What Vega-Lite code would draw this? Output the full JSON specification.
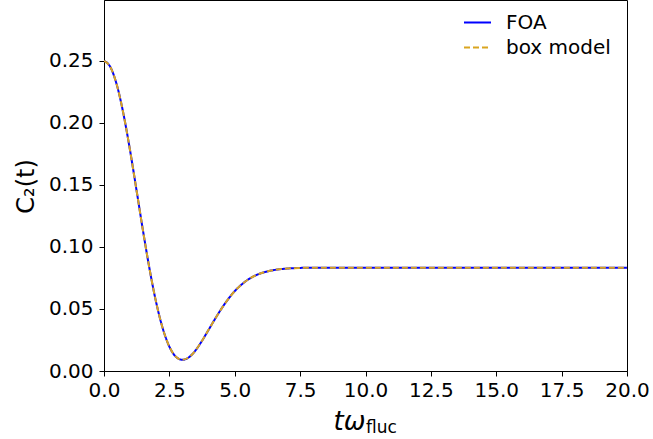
{
  "$schema": "https://vega.github.io/schema/vega-lite/v6.json",
  "width": 523,
  "height": 371,
  "autosize": {"type": "none"},
  "padding": {"left": 104, "top": 0, "right": 26, "bottom": 68},
  "background": "white",
  "title": {
    "text": "fluc",
    "orient": "bottom",
    "anchor": "start",
    "frame": "group",
    "font": "DejaVu Sans",
    "fontSize": 17,
    "fontWeight": "normal",
    "color": "black",
    "offset": 0,
    "dx": 262,
    "dy": -14
  },
  "data": {
    "values": [
      {"t": 0.0, "FOA": 0.25, "box": 0.25},
      {"t": 0.25, "FOA": 0.2448, "box": 0.2448},
      {"t": 0.5, "FOA": 0.2299, "box": 0.2299},
      {"t": 0.75, "FOA": 0.2066, "box": 0.2066},
      {"t": 1.0, "FOA": 0.1774, "box": 0.1774},
      {"t": 1.25, "FOA": 0.1449, "box": 0.1449},
      {"t": 1.5, "FOA": 0.112, "box": 0.112},
      {"t": 1.75, "FOA": 0.0813, "box": 0.0813},
      {"t": 2.0, "FOA": 0.0548, "box": 0.0548},
      {"t": 2.25, "FOA": 0.0341, "box": 0.0341},
      {"t": 2.5, "FOA": 0.0196, "box": 0.0196},
      {"t": 2.75, "FOA": 0.0115, "box": 0.0115},
      {"t": 3.0, "FOA": 0.009, "box": 0.009},
      {"t": 3.25, "FOA": 0.0111, "box": 0.0111},
      {"t": 3.5, "FOA": 0.0166, "box": 0.0166},
      {"t": 3.75, "FOA": 0.0244, "box": 0.0244},
      {"t": 4.0, "FOA": 0.0332, "box": 0.0332},
      {"t": 4.25, "FOA": 0.0421, "box": 0.0421},
      {"t": 4.5, "FOA": 0.0505, "box": 0.0505},
      {"t": 4.75, "FOA": 0.058, "box": 0.058},
      {"t": 5.0, "FOA": 0.0644, "box": 0.0644},
      {"t": 5.25, "FOA": 0.0695, "box": 0.0695},
      {"t": 5.5, "FOA": 0.0736, "box": 0.0736},
      {"t": 5.75, "FOA": 0.0766, "box": 0.0766},
      {"t": 6.0, "FOA": 0.0788, "box": 0.0788},
      {"t": 6.5, "FOA": 0.0814, "box": 0.0814},
      {"t": 7.0, "FOA": 0.0826, "box": 0.0826},
      {"t": 7.5, "FOA": 0.0831, "box": 0.0831},
      {"t": 8.0, "FOA": 0.0833, "box": 0.0833},
      {"t": 9.0, "FOA": 0.0833, "box": 0.0833},
      {"t": 10.0, "FOA": 0.0833, "box": 0.0833},
      {"t": 12.0, "FOA": 0.0833, "box": 0.0833},
      {"t": 14.0, "FOA": 0.0833, "box": 0.0833},
      {"t": 16.0, "FOA": 0.0833, "box": 0.0833},
      {"t": 18.0, "FOA": 0.0833, "box": 0.0833},
      {"t": 20.0, "FOA": 0.0833, "box": 0.0833}
    ]
  },
  "encoding": {
    "x": {
      "field": "t",
      "type": "quantitative",
      "scale": {"domain": [0, 20], "nice": false, "zero": false},
      "axis": {
        "values": [0, 2.5, 5, 7.5, 10, 12.5, 15, 17.5, 20],
        "format": ".1f",
        "title": "tω",
        "titleFontStyle": "italic",
        "titleFontWeight": "normal",
        "titleFontSize": 26,
        "titleX": 245,
        "titleY": 58,
        "titleBaseline": "alphabetic",
        "titleAlign": "center",
        "labelPadding": 4
      }
    }
  },
  "layer": [
    {
      "mark": {"type": "line", "strokeWidth": 2, "interpolate": "monotone", "clip": true},
      "encoding": {
        "y": {
          "field": "FOA",
          "type": "quantitative",
          "scale": {"domain": [0, 0.2991], "nice": false},
          "axis": {
            "values": [0, 0.05, 0.1, 0.15, 0.2, 0.25],
            "format": ".2f",
            "title": "C₂(t)",
            "titleFontWeight": "normal",
            "titleFontSize": 24,
            "titleAngle": 270,
            "titleX": -78,
            "titleY": 186,
            "titleAlign": "center",
            "titleBaseline": "middle",
            "labelPadding": 6
          }
        },
        "color": {"datum": "FOA"},
        "strokeDash": {"datum": "FOA"}
      }
    },
    {
      "mark": {"type": "line", "strokeWidth": 2, "interpolate": "monotone", "clip": true},
      "encoding": {
        "y": {"field": "box", "type": "quantitative"},
        "color": {
          "datum": "box model",
          "scale": {"domain": ["FOA", "box model"], "range": ["#0000ff", "#daa520"]},
          "legend": {
            "orient": "none",
            "legendX": 359,
            "legendY": 8,
            "title": null,
            "symbolType": "stroke",
            "symbolSize": 729,
            "symbolStrokeWidth": 2,
            "labelFontSize": 20,
            "labelOffset": 14,
            "rowPadding": 0,
            "padding": 0
          }
        },
        "strokeDash": {
          "datum": "box model",
          "scale": {"domain": ["FOA", "box model"], "range": [[1, 0], [6, 3]]}
        }
      }
    }
  ],
  "config": {
    "font": "DejaVu Sans",
    "view": {"stroke": "black", "strokeWidth": 1},
    "axis": {
      "grid": false,
      "domainColor": "black",
      "domainWidth": 1,
      "tickColor": "black",
      "tickWidth": 1,
      "tickSize": 5,
      "labelColor": "black",
      "labelFontSize": 20,
      "labelFont": "DejaVu Sans",
      "titleColor": "black",
      "titleFont": "DejaVu Sans",
      "labelFlush": false,
      "labelOverlap": false
    },
    "legend": {
      "labelColor": "black",
      "labelFont": "DejaVu Sans"
    }
  }
}
